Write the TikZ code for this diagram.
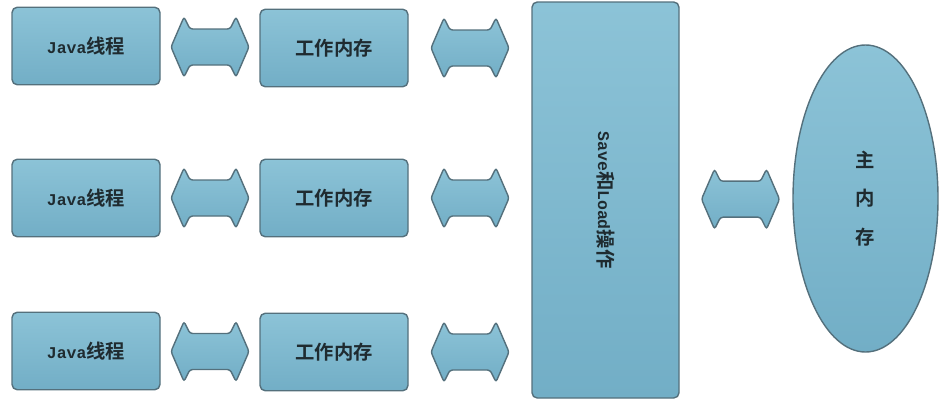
\documentclass[tikz,border=0pt]{standalone}
\usepackage{fontspec}
\usepackage{graphicx}
\setmainfont{Noto Sans CJK SC}[BoldFont={Noto Sans CJK SC Bold}]
\setmonofont{Liberation Mono}[Scale=0.85]
\usepackage{tikz}
\usetikzlibrary{calc,shapes.geometric}

\definecolor{fillt}{HTML}{8CC3D7}
\definecolor{fillb}{HTML}{72AEC6}
\definecolor{edge}{HTML}{54707C}
\definecolor{ink}{HTML}{1F2B30}

\begin{document}
\begin{tikzpicture}[
	tint/.style={draw=edge, line width=0.8pt, top color=fillt, bottom color=fillb},
	box/.style={tint, rounded corners=3pt, text=ink, font=\fontsize{11pt}{13pt}\selectfont\bfseries},
	thr/.style={box, minimum width=2.96cm, minimum height=1.55cm},
	dbl/.pic={\draw[tint, rounded corners=1.5pt] (-0.78,0) -- (-0.52,0.6) -- (-0.4,0.36) -- (0.4,0.36) -- (0.52,0.6) -- (0.78,0) -- (0.52,-0.6) -- (0.4,-0.36) -- (-0.4,-0.36) -- (-0.52,-0.6) -- cycle;}
	]
	
	\useasboundingbox (0,0) rectangle (18.86,8.1);
	
	\node[thr] (j1) at (1.72,7.18) {{\ttfamily Java}线程};
	
	\node[thr] (j2) at (1.72,4.14) {{\ttfamily Java}线程};
	
	\node[thr] (j3) at (1.72,1.08) {{\ttfamily Java}线程};
	
	\node[thr] (w1) at (6.68,7.14) {工作内存};
	
	\node[thr] (w2) at (6.68,4.14) {工作内存};
	
	\node[thr] (w3) at (6.68,1.06) {工作内存};
	
	\node[box, minimum width=2.94cm, minimum height=7.92cm] (save) at (12.11,4.1) {\rotatebox{-90}{{\ttfamily Save}和{\ttfamily Load}操作}};
	
	\node[box, ellipse, minimum width=2.9cm, minimum height=6.14cm, align=center] (mem) at (17.31,4.13) {主\\[0.32cm]内\\[0.32cm]存};
	
	\pic at ($(j1.east)!0.5!(w1.west)$) {dbl};
	\pic at ($(j2.east)!0.5!(w2.west)$) {dbl};
	\pic at ($(j3.east)!0.5!(w3.west)$) {dbl};
	\pic at ($(w1.east)!0.5!(save.west |- w1.east)$) {dbl};
	\pic at ($(w2.east)!0.5!(save.west |- w2.east)$) {dbl};
	\pic at ($(w3.east)!0.5!(save.west |- w3.east)$) {dbl};
	\pic at ($(save.east)!0.54!(mem.west)$) {dbl};
	
\end{tikzpicture}
\end{document}
